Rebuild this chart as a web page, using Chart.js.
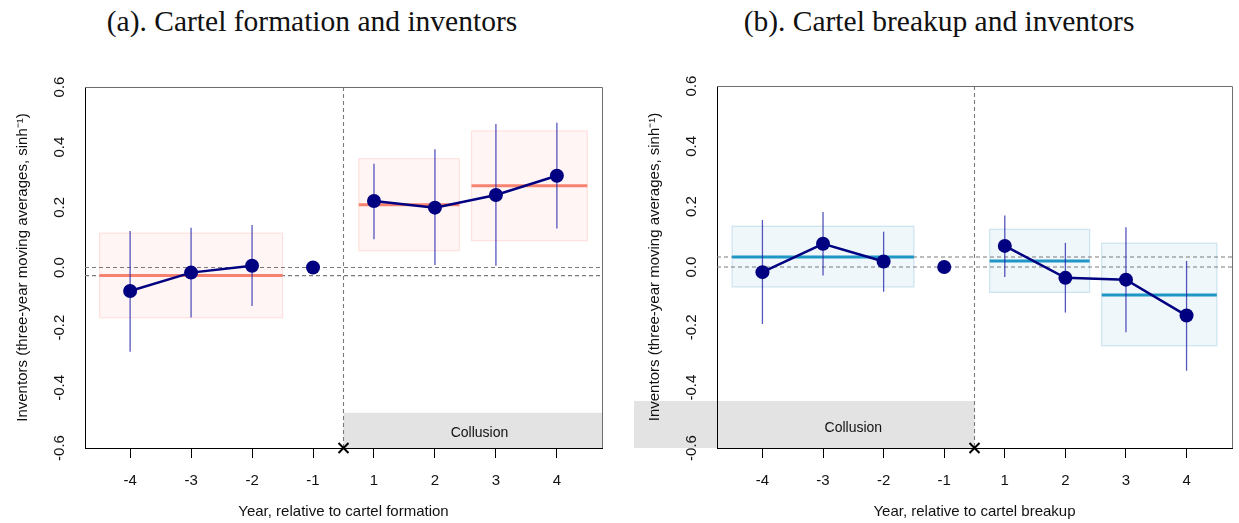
<!DOCTYPE html>
<html>
<head>
<meta charset="utf-8">
<script src="https://cdn.jsdelivr.net/npm/chart.js@4.4.1/dist/chart.umd.min.js"></script>
<style>
    body { margin: 0; background: #fff; width: 1239px; height: 523px; position: relative; overflow: hidden; }
    .wrap { position: absolute; top: 0; height: 523px; }
    .ttl { position: absolute; top: 3px; font: 29.5px "Liberation Serif", serif; line-height: 36px; color: #111; white-space: nowrap; transform: translateX(-50%); }
</style>
</head>
<body>
<div class="ttl" style="left:312px">(a). Cartel formation and inventors</div>
<div class="ttl" style="left:939px">(b). Cartel breakup and inventors</div>
<div class="wrap" style="left:0;width:620px"><canvas id="chartA" width="620" height="523"></canvas></div>
<div class="wrap" style="left:620px;width:619px"><canvas id="chartB" width="619" height="523"></canvas></div>

<script>
// shared axis data
const yearLabels = ["-4", "-3", "-2", "-1", "1", "2", "3", "4"];
const xPos = [1, 2, 3, 4, 5, 6, 7, 8];
const yTicks = [-0.6, -0.4, -0.2, 0, 0.2, 0.4, 0.6];
const yTickLabels = ["-0.6", "-0.4", "-0.2", "0.0", "0.2", "0.4", "0.6"];
const cutX = 4.5; // between -1 and 1

// (a) cartel formation
const formEst = [-0.078, -0.017, 0.006, 0, 0.221, 0.199, 0.241, 0.305];
const formLo = [-0.28, -0.166, -0.128, null, 0.094, 0.008, 0.006, 0.13];
const formHi = [0.121, 0.132, 0.141, null, 0.345, 0.393, 0.477, 0.481];
const formBoxFrom = [0.5, 4.75, 6.6];
const formBoxTo = [3.5, 6.4, 8.5];
const formBoxLo = [-0.167, 0.056, 0.089];
const formBoxHi = [0.114, 0.362, 0.454];
const formMean = [-0.027, 0.209, 0.272];
const formCollX = [4.5, 8.74];
const formCollY = [-0.6, -0.483];
const formCollText = [6.73, -0.549];

// (b) cartel breakup
const breakEst = [-0.017, 0.077, 0.018, 0, 0.07, -0.036, -0.042, -0.161];
const breakLo = [-0.189, -0.028, -0.082, null, -0.033, -0.151, -0.216, -0.344];
const breakHi = [0.156, 0.182, 0.117, null, 0.171, 0.08, 0.132, 0.02];
const breakBoxFrom = [0.5, 4.75, 6.6];
const breakBoxTo = [3.5, 6.4, 8.5];
const breakBoxLo = [-0.066, -0.084, -0.261];
const breakBoxHi = [0.135, 0.125, 0.079];
const breakMean = [0.033, 0.02, -0.093];
const breakCollX = [-1.12, 4.5];
const breakCollY = [-0.6, -0.444];
const breakCollText = [2.5, -0.533];

const NAVY = "#000080";
const SANS = "'Liberation Sans', Arial, sans-serif";

function makePanel(id, p) {
    const pts = (idx) => idx.map(i => ({ x: xPos[i], y: p.est[i] }));

    const overlay = {
        id: "overlay",
        beforeDraw(chart) {
            const { ctx, scales: { x, y } } = chart;
            ctx.save();
            // collusion band, drawn past the plot edge like the original
            const x0 = x.getPixelForValue(p.collX[0]), x1 = x.getPixelForValue(p.collX[1]);
            const y0 = y.getPixelForValue(p.collY[1]), y1 = y.getPixelForValue(p.collY[0]);
            ctx.fillStyle = "#e3e3e3";
            ctx.fillRect(x0, y0, x1 - x0, y1 - y0);
            ctx.fillStyle = "#111";
            ctx.font = "14px " + SANS;
            ctx.textAlign = "center";
            ctx.textBaseline = "middle";
            ctx.fillText("Collusion", x.getPixelForValue(p.collText[0]), y.getPixelForValue(p.collText[1]));
            ctx.restore();
        },
        beforeDatasetsDraw(chart) {
            const { ctx, chartArea: a, scales: { x, y } } = chart;
            ctx.save();
            ctx.beginPath();
            ctx.rect(a.left, a.top, a.right - a.left, a.bottom - a.top);
            ctx.clip();

            // shaded period boxes
            p.boxFrom.forEach((f, i) => {
                const bx0 = x.getPixelForValue(f), bx1 = x.getPixelForValue(p.boxTo[i]);
                const by0 = y.getPixelForValue(p.boxHi[i]), by1 = y.getPixelForValue(p.boxLo[i]);
                ctx.fillStyle = p.boxFill;
                ctx.fillRect(bx0, by0, bx1 - bx0, by1 - by0);
                ctx.strokeStyle = p.boxEdge;
                ctx.lineWidth = 1.2;
                ctx.strokeRect(bx0, by0, bx1 - bx0, by1 - by0);
            });

            // dashed reference lines
            ctx.strokeStyle = "#7a7a7a";
            ctx.lineWidth = 1.1;
            ctx.setLineDash([4, 3]);
            [0, p.mean[0]].forEach(v => {
                const yy = y.getPixelForValue(v);
                ctx.beginPath();
                ctx.moveTo(a.left, yy);
                ctx.lineTo(a.right, yy);
                ctx.stroke();
            });
            const cx = x.getPixelForValue(cutX);
            ctx.beginPath();
            ctx.moveTo(cx, a.top);
            ctx.lineTo(cx, a.bottom);
            ctx.stroke();
            ctx.setLineDash([]);

            // period means
            ctx.strokeStyle = p.meanColor;
            ctx.lineWidth = 3;
            p.boxFrom.forEach((f, i) => {
                const yy = y.getPixelForValue(p.mean[i]);
                ctx.beginPath();
                ctx.moveTo(x.getPixelForValue(f), yy);
                ctx.lineTo(x.getPixelForValue(p.boxTo[i]), yy);
                ctx.stroke();
            });

            // confidence intervals
            ctx.strokeStyle = "rgba(30, 30, 170, 0.75)";
            ctx.lineWidth = 1.3;
            xPos.forEach((xv, i) => {
                if (p.lo[i] == null) return;
                const xx = x.getPixelForValue(xv);
                ctx.beginPath();
                ctx.moveTo(xx, y.getPixelForValue(p.lo[i]));
                ctx.lineTo(xx, y.getPixelForValue(p.hi[i]));
                ctx.stroke();
            });
            ctx.restore();
        },
        afterDraw(chart) {
            const { ctx, chartArea: a, scales: { x, y } } = chart;
            ctx.save();
            // top / right frame
            ctx.strokeStyle = "#6e6e6e";
            ctx.lineWidth = 1;
            ctx.beginPath();
            ctx.moveTo(a.left, a.top + 0.5);
            ctx.lineTo(a.right + 0.5, a.top + 0.5);
            ctx.lineTo(a.right + 0.5, a.bottom);
            ctx.stroke();

            // rotated y tick labels
            ctx.fillStyle = "#111";
            ctx.font = "15px " + SANS;
            ctx.textAlign = "center";
            ctx.textBaseline = "middle";
            yTicks.forEach((v, i) => {
                ctx.save();
                ctx.translate(a.left - 25, y.getPixelForValue(v));
                ctx.rotate(-Math.PI / 2);
                ctx.fillText(yTickLabels[i], 0, 0);
                ctx.restore();
            });

            // cross marker at the event
            const mx = x.getPixelForValue(cutX), my = y.getPixelForValue(-0.6);
            ctx.strokeStyle = "#000";
            ctx.lineWidth = 2;
            ctx.beginPath();
            ctx.moveTo(mx - 5, my - 5); ctx.lineTo(mx + 5, my + 5);
            ctx.moveTo(mx + 5, my - 5); ctx.lineTo(mx - 5, my + 5);
            ctx.stroke();
            ctx.restore();
        }
    };

    return new Chart(document.getElementById(id), {
        type: "line",
        data: {
            datasets: [
                { data: pts([0, 1, 2]) },
                { data: pts([3]), showLine: false },
                { data: pts([4, 5, 6, 7]) },
            ].map(d => Object.assign({
                borderColor: NAVY,
                borderWidth: 2.5,
                pointRadius: 7,
                pointBackgroundColor: NAVY,
                pointBorderWidth: 0,
                tension: 0,
            }, d)),
        },
        options: {
            responsive: false,
            animation: false,
            events: [],
            layout: { padding: { top: p.top, right: p.padRight, left: p.padLeft, bottom: 0 } },
            plugins: { legend: { display: false }, tooltip: { enabled: false } },
            scales: {
                x: {
                    type: "linear",
                    min: p.xMin,
                    max: p.xMax,
                    bounds: "data",
                    afterBuildTicks: s => { s.ticks = xPos.map(v => ({ value: v })); },
                    afterFit: s => { s.height = 75; },
                    ticks: {
                        autoSkip: false,
                        maxRotation: 0,
                        padding: 14,
                        color: "#111",
                        font: { family: SANS, size: 15 },
                        callback: v => yearLabels[xPos.indexOf(v)],
                    },
                    grid: { drawOnChartArea: false, tickLength: 10, color: "#000" },
                    border: { color: "#000", width: 1 },
                    title: {
                        display: true,
                        text: p.xTitle,
                        color: "#111",
                        font: { family: SANS, size: 15 },
                        padding: { top: 0, bottom: 2 },
                    },
                },
                y: {
                    min: -0.6,
                    max: 0.6,
                    afterFit: s => { s.width = 85; },
                    ticks: { display: false },
                    grid: { display: false },
                    border: { color: "#000", width: 1 },
                    title: {
                        display: true,
                        text: "Inventors (three-year moving averages, sinh\u207B\u00B9)",
                        color: "#111",
                        font: { family: SANS, size: 15 },
                        padding: { top: 14, bottom: 0 },
                    },
                },
            },
        },
        plugins: [overlay],
    });
}

makePanel("chartA", {
    est: formEst, lo: formLo, hi: formHi,
    boxFrom: formBoxFrom, boxTo: formBoxTo, boxLo: formBoxLo, boxHi: formBoxHi, mean: formMean,
    collX: formCollX, collY: formCollY, collText: formCollText,
    boxFill: "rgba(255, 215, 212, 0.24)", boxEdge: "rgba(255, 205, 200, 0.55)", meanColor: "#f7826f",
    xTitle: "Year, relative to cartel formation",
    xMin: 0.26, xMax: 8.74, top: 87, padLeft: 0, padRight: 18,
});

makePanel("chartB", {
    est: breakEst, lo: breakLo, hi: breakHi,
    boxFrom: breakBoxFrom, boxTo: breakBoxTo, boxLo: breakBoxLo, boxHi: breakBoxHi, mean: breakMean,
    collX: breakCollX, collY: breakCollY, collText: breakCollText,
    boxFill: "rgba(205, 228, 240, 0.3)", boxEdge: "rgba(180, 215, 232, 0.65)", meanColor: "#1f96c6",
    xTitle: "Year, relative to cartel breakup",
    xMin: 0.25, xMax: 8.75, top: 86, padLeft: 12, padRight: 5,
});
</script>
</body>
</html>
